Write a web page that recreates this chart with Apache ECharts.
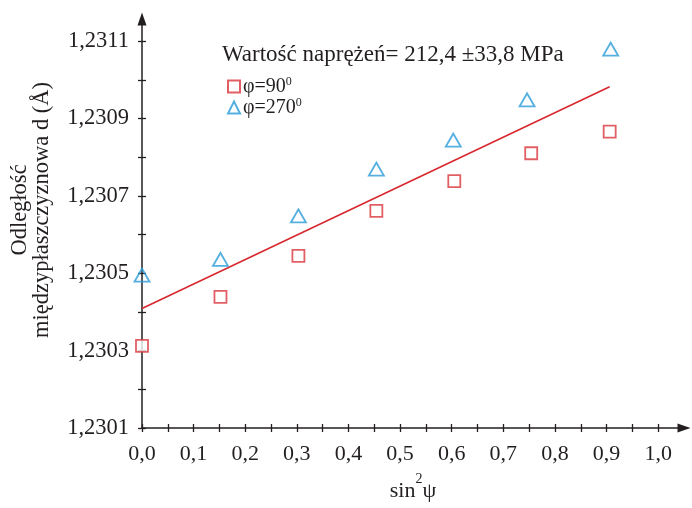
<!DOCTYPE html>
<html><head><meta charset="utf-8">
<script src="https://cdn.jsdelivr.net/npm/echarts@6/dist/echarts.min.js"></script>
<style>html,body{margin:0;padding:0;background:#fff}#c{width:692px;height:508px}</style>
</head><body><div id="c"></div>
<script>
// ---- data ----
const x_phi90 = [0, 0.152, 0.303, 0.454, 0.605, 0.754, 0.906];
const d_phi90 = [1.230312, 1.230439, 1.230545, 1.230661, 1.230738, 1.230810, 1.230866];
const x_phi270 = [0, 0.152, 0.303, 0.454, 0.603, 0.746, 0.908];
const d_phi270 = [1.230495, 1.230536, 1.230648, 1.230769, 1.230844, 1.230948, 1.231079];
const fitX = [0, 0.906];
const fitY = [1.230409, 1.230982];
const xLabelValues = [0, 0.1, 0.2, 0.3, 0.4, 0.5, 0.6, 0.7, 0.8, 0.9, 1.0];
const xTickValues = [0, 0.05, 0.1, 0.15, 0.2, 0.25, 0.3, 0.35, 0.4, 0.45, 0.5, 0.55, 0.6, 0.65, 0.7, 0.75, 0.8, 0.85, 0.9, 0.95, 1.0];
const yLabelValues = [1.2301, 1.2303, 1.2305, 1.2307, 1.2309, 1.2311];
const yTickValues = [1.2301, 1.2302, 1.2303, 1.2304, 1.2305, 1.2306, 1.2307, 1.2308, 1.2309, 1.2310, 1.2311];
const seriesNames = ['φ=90', 'φ=270'];
const annotation = 'Wartość naprężeń= 212,4 ±33,8 MPa';
const yTitle = 'Odległość\nmiędzypłaszczyznowa d (Å)';

const INK = '#231f20', RED = '#d9373d', BLUE = '#2a9cd8', LINE = '#d7282f';
const FONT = '"Liberation Serif", "Times New Roman", serif';
const XMIN = 0, XMAX = 1.05, YMIN = 1.2301, YMAX = 1.231157;

const zip = (a, b) => a.map((v, i) => [v, b[i]]);

const chart = echarts.init(document.getElementById('c'), null, {renderer: 'canvas'});
chart.setOption({
  backgroundColor: '#fff',
  animation: false,
  grid: {left: 142, right: 8, top: 19, bottom: 80, outerBoundsMode: 'none'},
  xAxis: [{
    type: 'value', min: XMIN, max: XMAX, position: 'bottom',
    axisLine: {onZero: false, lineStyle: {color: INK, width: 1.5}, symbol: ['none', 'triangle'], symbolSize: [9, 13]},
    axisTick: {show: true, length: 4, customValues: xTickValues, lineStyle: {color: INK, width: 1.3}},
    axisLabel: {customValues: xLabelValues, margin: 15, color: INK, fontFamily: FONT, fontSize: 22,
      formatter: v => v.toFixed(1).replace('.', ',')},
    splitLine: {show: false},
    name: '{a|sin}{s|2}{a|ψ}', nameLocation: 'middle', nameGap: 44,
    nameTextStyle: {rich: {
      a: {fontFamily: FONT, fontSize: 22, color: INK, lineHeight: 30, verticalAlign: 'bottom'},
      s: {fontFamily: FONT, fontSize: 14, color: INK, lineHeight: 30, verticalAlign: 'top'}
    }}
  }, {
    type: 'value', min: XMIN, max: XMAX, position: 'bottom',
    axisLine: {show: false, onZero: false},
    axisTick: {show: true, inside: true, length: 4, customValues: xTickValues, lineStyle: {color: INK, width: 1.3}},
    axisLabel: {show: false}, splitLine: {show: false}
  }],
  yAxis: [{
    type: 'value', min: YMIN, max: YMAX, position: 'left',
    axisLine: {show: true, onZero: false, lineStyle: {color: INK, width: 1.5}, symbol: ['none', 'triangle'], symbolSize: [9, 13]},
    axisTick: {show: true, length: 4, customValues: yTickValues, lineStyle: {color: INK, width: 1.3}},
    axisLabel: {customValues: yLabelValues, margin: 13, color: INK, fontFamily: FONT, fontSize: 22.5,
      formatter: v => v.toFixed(4).replace('.', ',')},
    splitLine: {show: false}
  }, {
    type: 'value', min: YMIN, max: YMAX, position: 'left',
    axisLine: {show: false, onZero: false},
    axisTick: {show: true, inside: true, length: 4, customValues: yTickValues, lineStyle: {color: INK, width: 1.3}},
    axisLabel: {show: false}, splitLine: {show: false}
  }],
  legend: {
    orient: 'vertical', left: 222, top: 71, itemGap: 0, itemWidth: 12, itemHeight: 12,
    data: seriesNames,
    formatter: n => '{t|' + n + '}{s|0}',
    textStyle: {padding: [0, 0, 0, -2], rich: {
      t: {fontFamily: FONT, fontSize: 20, color: INK, lineHeight: 20},
      s: {fontFamily: FONT, fontSize: 12, color: INK, lineHeight: 12, padding: [0, 0, 9, 0]}
    }}
  },
  series: [{
    name: 'fit', type: 'line', data: zip(fitX, fitY), symbol: 'none', silent: true,
    lineStyle: {color: LINE, width: 1.6}, z: 1
  }, {
    name: seriesNames[0], type: 'scatter', data: zip(x_phi90, d_phi90),
    symbol: 'rect', symbolSize: 12,
    itemStyle: {color: '#fff', borderColor: RED, borderWidth: 1.8}, z: 3
  }, {
    name: seriesNames[1], type: 'scatter', data: zip(x_phi270, d_phi270),
    symbol: 'triangle', symbolSize: [15, 13],
    itemStyle: {color: 'rgba(255,255,255,0)', borderColor: BLUE, borderWidth: 1.8}, z: 3
  }],
  graphic: [{
    type: 'text', left: 222, top: 43,
    style: {text: annotation, fontFamily: FONT, fontSize: 23, fill: INK}
  }, {
    type: 'text', x: 31, y: 210, rotation: Math.PI / 2,
    style: {text: yTitle, fontFamily: FONT, fontSize: 22.5, fill: INK, align: 'center', verticalAlign: 'middle', lineHeight: 22}
  }]
});
</script></body></html>
